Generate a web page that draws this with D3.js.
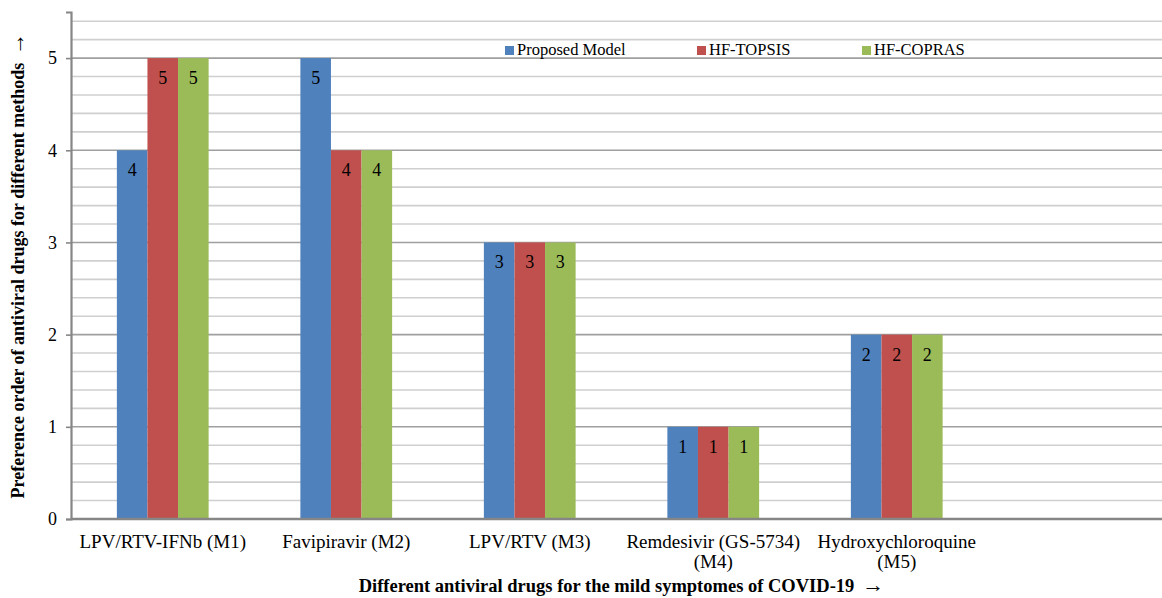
<!DOCTYPE html>
<html>
<head>
<meta charset="utf-8">
<script src="https://cdn.jsdelivr.net/npm/d3@7/dist/d3.min.js"></script>
<style>
  html, body { margin: 0; padding: 0; background: #fff; }
  svg { display: block; font-family: "Liberation Serif", "Times New Roman", serif; }
</style>
</head>
<body>
<svg id="chart" width="1162" height="598"></svg>
<script>
// Drug alternatives (x categories); multi-line labels split on "\n"
const categories = [
  "LPV/RTV-IFNb (M1)",
  "Favipiravir (M2)",
  "LPV/RTV (M3)",
  "Remdesivir (GS-5734)\n(M4)",
  "Hydroxychloroquine\n(M5)"
];
const seriesNames = ["Proposed Model", "HF-TOPSIS", "HF-COPRAS"];
const proposedModel = [4, 5, 3, 1, 2];
const hfTopsis      = [5, 4, 3, 1, 2];
const hfCopras      = [5, 4, 3, 1, 2];
const yTicks = [0, 1, 2, 3, 4, 5];
const seriesColors = ["#4F81BD", "#C0504D", "#9BBB59"];

const yTitle = "Preference order of antiviral drugs for different methods";
const xTitle = "Different antiviral drugs for the mild symptomes of COVID-19";
const arrow = "\u2192";

const series = [proposedModel, hfTopsis, hfCopras];

const svg = d3.select("#chart");
const margin = { left: 71, top: 12, bottom: 79 };
const plotH = 598 - margin.top - margin.bottom;
const bandW = 183.5;
const plotW = bandW * (categories.length + 1);

const g = svg.append("g").attr("transform", `translate(${margin.left},${margin.top})`);

const y = d3.scaleLinear().domain([0, 5.5]).range([plotH, 0]);
const x = d3.scaleBand().domain(categories).range([0, bandW * categories.length]).paddingInner(0.5).paddingOuter(0.25);
const xs = d3.scaleBand().domain(seriesNames).range([0, x.bandwidth()]);

// minor gridlines every 0.2
const minor = d3.range(0.2, 5.5, 0.2).filter(v => Math.abs(v - Math.round(v)) > 1e-6);
g.append("g").selectAll("line").data(minor).join("line")
  .attr("x1", 0).attr("x2", plotW)
  .attr("y1", d => y(d)).attr("y2", d => y(d))
  .attr("stroke", "#cfcfcf").attr("stroke-width", 1.6);

// major gridlines on integers
g.append("g").selectAll("line").data(yTicks.filter(v => v > 0)).join("line")
  .attr("x1", 0).attr("x2", plotW)
  .attr("y1", d => y(d)).attr("y2", d => y(d))
  .attr("stroke", "#9f9f9f").attr("stroke-width", 1.6);

// bars
const groups = g.append("g").selectAll("g").data(categories).join("g")
  .attr("transform", d => `translate(${x(d)},0)`);

groups.selectAll("rect")
  .data((d, i) => series.map((s, k) => ({ name: seriesNames[k], value: s[i], k })))
  .join("rect")
  .attr("x", d => xs(d.name))
  .attr("width", xs.bandwidth())
  .attr("y", d => y(d.value))
  .attr("height", d => y(0) - y(d.value))
  .attr("fill", d => seriesColors[d.k]);

// value labels inside bars
groups.selectAll("text")
  .data((d, i) => series.map((s, k) => ({ name: seriesNames[k], value: s[i], k })))
  .join("text")
  .attr("x", d => xs(d.name) + xs.bandwidth() / 2)
  .attr("y", d => y(d.value) + 26)
  .attr("text-anchor", "middle")
  .attr("font-size", 18)
  .attr("fill", "#000")
  .text(d => d.value);

// y axis
const yAxis = g.append("g")
  .call(d3.axisLeft(y).tickValues(yTicks).tickFormat(d3.format("d")).tickSize(5).tickPadding(9));
yAxis.select(".domain").attr("stroke", "#868686").attr("stroke-width", 2.2);
yAxis.selectAll(".tick line").attr("stroke", "#868686").attr("stroke-width", 1.6);
yAxis.selectAll(".tick text").attr("font-size", 18).attr("font-family", "Liberation Serif, serif").attr("fill", "#000");

// x baseline
g.append("line").attr("x1", 0).attr("x2", plotW).attr("y1", y(0)).attr("y2", y(0))
  .attr("stroke", "#868686").attr("stroke-width", 2.4);

// x category labels
const xl = g.append("g").selectAll("text").data(categories).join("text")
  .attr("x", d => x(d) + x.bandwidth() / 2)
  .attr("y", plotH + 29)
  .attr("text-anchor", "middle")
  .attr("font-size", 19)
  .attr("fill", "#000");
xl.each(function(d) {
  const lines = d.split("\n");
  d3.select(this).selectAll("tspan").data(lines).join("tspan")
    .attr("x", x(d) + x.bandwidth() / 2)
    .attr("dy", (l, i) => i === 0 ? 0 : 20)
    .text(l => l);
});

// legend
const legend = svg.append("g").attr("transform", "translate(505,46)");
const legendX = [0, 192, 357];
seriesNames.forEach((name, k) => {
  const lg = legend.append("g").attr("transform", `translate(${legendX[k]},0)`);
  lg.append("rect").attr("width", 9).attr("height", 9).attr("fill", seriesColors[k]);
  lg.append("text").attr("x", 12).attr("y", 9).attr("font-size", 16.5).attr("fill", "#000").text(name);
});

// axis titles, each followed by a direction arrow
const yt = svg.append("text")
  .attr("transform", `translate(24,${margin.top + plotH / 2}) rotate(-90)`)
  .attr("text-anchor", "middle")
  .attr("font-size", 18).attr("font-weight", "bold").attr("fill", "#000");
yt.append("tspan").text(yTitle);
yt.append("tspan").attr("dx", 8).attr("font-size", 22).attr("font-weight", "normal").text(arrow);

const xt = svg.append("text")
  .attr("x", margin.left + plotW / 2)
  .attr("y", 592)
  .attr("text-anchor", "middle")
  .attr("font-size", 18.5).attr("font-weight", "bold").attr("fill", "#000");
xt.append("tspan").text(xTitle);
xt.append("tspan").attr("dx", 8).attr("font-size", 22).attr("font-weight", "normal").text(arrow);
</script>
</body>
</html>
